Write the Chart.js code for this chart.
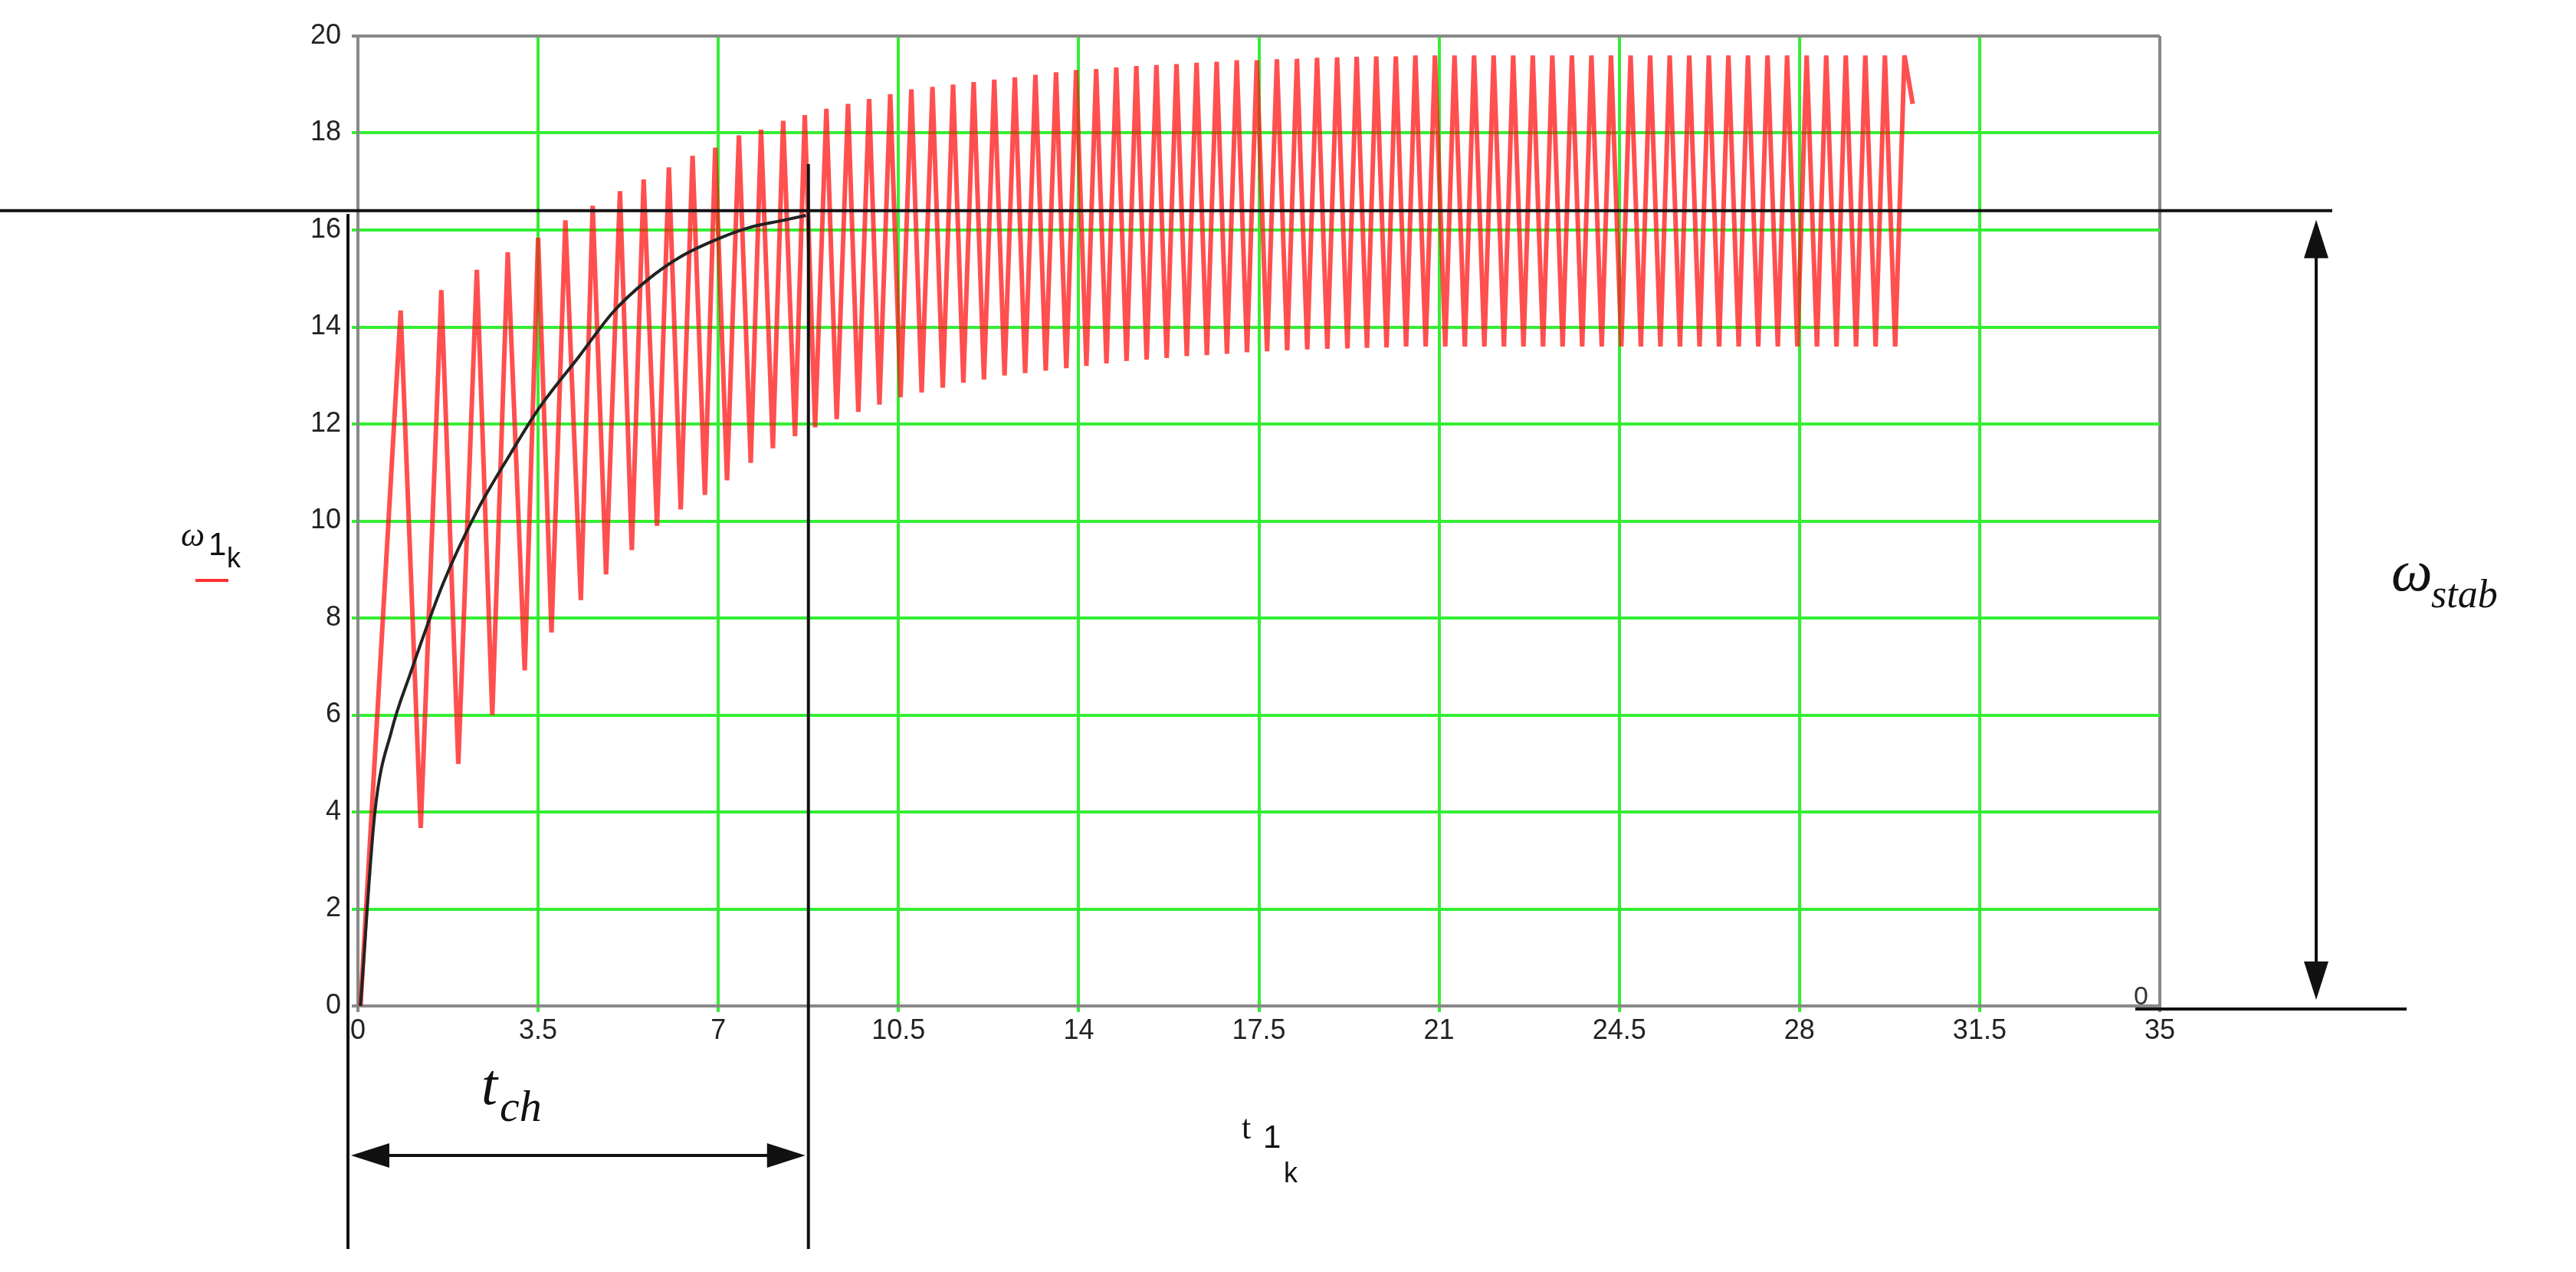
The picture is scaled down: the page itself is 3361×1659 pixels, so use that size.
<!DOCTYPE html>
<html>
<head>
<meta charset="utf-8">
<script src="https://cdn.jsdelivr.net/npm/chart.js@4.4.1/dist/chart.umd.min.js"></script>
<style>
  html, body { margin: 0; padding: 0; background: #fff; }
  #wrap { width: 3361px; height: 1659px; }
</style>
</head>
<body>
<div id="wrap"><canvas id="omegaChart"></canvas></div>
<script>
// tick labels
const xTicks = [0, 3.5, 7, 10.5, 14, 17.5, 21, 24.5, 28, 31.5, 35];
const yTicks = [0, 2, 4, 6, 8, 10, 12, 14, 16, 18, 20];

// oscillating speed omega_1k: peaks and troughs
const peakTimes = [0.83, 1.62, 2.31, 2.91, 3.5, 4.03, 4.56, 5.09, 5.55, 6.04, 6.5, 6.94, 7.4, 7.83, 8.26, 8.68,
  9.10, 9.52, 9.93, 10.34, 10.75, 11.16, 11.56, 11.96, 12.36, 12.76, 13.16, 13.56, 13.95, 14.34, 14.73, 15.12,
  15.51, 15.90, 16.29, 16.68, 17.07, 17.46, 17.85, 18.24, 18.63, 19.02, 19.40, 19.78, 20.16, 20.54, 20.92, 21.30,
  21.68, 22.06, 22.44, 22.82, 23.20, 23.58, 23.96, 24.34, 24.72, 25.10, 25.48, 25.86, 26.24, 26.62, 27.00, 27.38,
  27.76, 28.14, 28.52, 28.90, 29.28, 29.66, 30.04];
const peakValues = [14.34, 14.76, 15.18, 15.54, 15.84, 16.2, 16.5, 16.8, 17.04, 17.29, 17.53, 17.7, 17.95, 18.07, 18.25, 18.37,
  18.5, 18.6, 18.7, 18.8, 18.9, 18.95, 19.0, 19.05, 19.1, 19.15, 19.2, 19.25, 19.3, 19.32, 19.35, 19.38,
  19.4, 19.42, 19.45, 19.47, 19.5, 19.5, 19.52, 19.53, 19.55, 19.56, 19.57, 19.58, 19.58, 19.6, 19.6, 19.6,
  19.6, 19.6, 19.6, 19.6, 19.6, 19.6, 19.6, 19.6, 19.6, 19.6, 19.6, 19.6, 19.6, 19.6, 19.6, 19.6,
  19.6, 19.6, 19.6, 19.6, 19.6, 19.6, 19.6];
const troughTimes = [1.22, 1.95, 2.61, 3.24, 3.76, 4.33, 4.82, 5.32, 5.81, 6.27, 6.74, 7.17, 7.63, 8.06, 8.49, 8.88,
  9.30, 9.72, 10.13, 10.54, 10.95, 11.36, 11.76, 12.16, 12.56, 12.96, 13.36, 13.76, 14.15, 14.54, 14.93, 15.32,
  15.71, 16.10, 16.49, 16.88, 17.27, 17.66, 18.05, 18.44, 18.83, 19.22, 19.60, 19.98, 20.36, 20.74, 21.12, 21.50,
  21.88, 22.26, 22.64, 23.02, 23.40, 23.78, 24.16, 24.54, 24.92, 25.30, 25.68, 26.06, 26.44, 26.82, 27.20, 27.58,
  27.96, 28.34, 28.72, 29.10, 29.48, 29.86];
const troughValues = [3.67, 4.99, 6.0, 6.92, 7.7, 8.37, 8.9, 9.4, 9.9, 10.24, 10.54, 10.84, 11.2, 11.5, 11.75, 11.93,
  12.1, 12.25, 12.4, 12.55, 12.65, 12.75, 12.85, 12.92, 13.0, 13.05, 13.1, 13.15, 13.2, 13.25, 13.3, 13.33,
  13.36, 13.4, 13.42, 13.45, 13.48, 13.5, 13.52, 13.54, 13.55, 13.56, 13.57, 13.58, 13.6, 13.6, 13.6, 13.6,
  13.6, 13.6, 13.6, 13.6, 13.6, 13.6, 13.6, 13.6, 13.6, 13.6, 13.6, 13.6, 13.6, 13.6, 13.6, 13.6,
  13.6, 13.6, 13.6, 13.6, 13.6, 13.6];
const startPoint = [0.05, 0];
const endPoint = [30.2, 18.6];

// smooth mean curve (black)
const meanTimes = [0.05, 0.33, 0.66, 1.0, 1.65, 2.31, 2.97, 3.5, 4.3, 4.95, 5.6, 6.27, 7.0, 7.6, 8.26, 8.7];
const meanValues = [0, 4.0, 5.7, 6.8, 8.7, 10.2, 11.4, 12.3, 13.4, 14.3, 14.95, 15.45, 15.82, 16.05, 16.2, 16.3];

const omegaStab = 16.4;
const tCh = 8.75;

function buildOscillation() {
  const pts = [{ x: startPoint[0], y: startPoint[1] }];
  peakTimes.forEach((t, i) => pts.push({ x: t, y: peakValues[i] }));
  troughTimes.forEach((t, i) => pts.push({ x: t, y: troughValues[i] }));
  pts.push({ x: endPoint[0], y: endPoint[1] });
  return pts.sort((a, b) => a.x - b.x);
}

// annotation overlay: omega_stab line, t_ch markers, arrows, axis titles
const overlay = {
  id: 'overlay',
  afterDraw(chart) {
    const c = chart.ctx;
    const xs = chart.scales.x, ys = chart.scales.y;
    const yStab = ys.getPixelForValue(omegaStab);
    const y0 = ys.getPixelForValue(0);
    const xL = 454;
    const xCh = xs.getPixelForValue(tCh);
    c.save();
    c.strokeStyle = '#111';
    c.fillStyle = '#111';
    c.lineWidth = 4;

    c.beginPath();
    c.moveTo(0, yStab); c.lineTo(3043, yStab);
    c.moveTo(xL, 279); c.lineTo(xL, 1629);
    c.moveTo(xCh, 214); c.lineTo(xCh, 1629);
    c.moveTo(2786, y0 + 4); c.lineTo(3140, y0 + 4);
    c.stroke();

    function arrowHead(x, y, dx, dy) {
      const L = 50, W = 16;
      const px = -dy, py = dx;
      c.beginPath();
      c.moveTo(x, y);
      c.lineTo(x - dx * L + px * W, y - dy * L + py * W);
      c.lineTo(x - dx * L - px * W, y - dy * L - py * W);
      c.closePath();
      c.fill();
    }
    // t_ch arrow
    const ya = 1507;
    c.beginPath(); c.moveTo(xL + 20, ya); c.lineTo(xCh - 20, ya); c.stroke();
    arrowHead(xL + 4, ya, -1, 0);
    arrowHead(xCh - 4, ya, 1, 0);
    // omega_stab arrow
    const xa = 3022;
    c.beginPath(); c.moveTo(xa, yStab + 30); c.lineTo(xa, y0 - 30); c.stroke();
    arrowHead(xa, yStab + 12, 0, -1);
    arrowHead(xa, y0 - 8, 0, 1);

    c.textBaseline = 'alphabetic';
    c.font = 'italic 76px "Liberation Serif"';
    c.fillText('t', 628, 1440);
    c.font = 'italic 58px "Liberation Serif"';
    c.fillText('ch', 652, 1462);
    c.font = 'italic 76px "Liberation Serif"';
    c.fillText('ω', 3120, 770);
    c.font = 'italic 52px "Liberation Serif"';
    c.fillText('stab', 3172, 792);

    // axis titles
    c.font = 'italic 44px "Liberation Serif"';
    c.fillText('ω', 236, 712);
    c.font = '44px "Liberation Serif"';
    c.fillText('t', 1620, 1485);
    c.font = '42px "Liberation Sans"';
    c.fillText('1', 272, 724);
    c.fillText('1', 1648, 1497);
    c.font = '36px "Liberation Sans"';
    c.fillText('k', 296, 740);
    c.fillText('k', 1675, 1542);
    c.strokeStyle = '#ff3030';
    c.lineWidth = 4;
    c.beginPath(); c.moveTo(255, 757); c.lineTo(298, 757); c.stroke();

    // right-side zero label
    c.font = '34px "Liberation Sans"';
    c.fillStyle = '#333';
    c.fillText('0', 2784, y0 - 2);
    c.restore();
  }
};

window.addEventListener('DOMContentLoaded', () => {
  const ctx = document.getElementById('omegaChart').getContext('2d');
  new Chart(ctx, {
    type: 'line',
    data: {
      datasets: [{
        label: 'omega mean',
        data: meanTimes.map((t, i) => ({ x: t, y: meanValues[i] })),
        borderColor: '#222',
        borderWidth: 4,
        pointRadius: 0,
        tension: 0.4,
        cubicInterpolationMode: 'monotone'
      }, {
        label: 'omega 1k',
        data: buildOscillation(),
        borderColor: 'rgba(255, 20, 20, 0.75)',
        borderWidth: 6,
        pointRadius: 0,
        tension: 0
      }]
    },
    plugins: [overlay],
    options: {
      responsive: true,
      maintainAspectRatio: false,
      animation: false,
      layout: { padding: { left: 377, right: 543, top: 47, bottom: 287 } },
      plugins: { legend: { display: false }, tooltip: { enabled: false } },
      scales: {
        x: {
          type: 'linear', min: 0, max: 35,
          afterFit: s => { s.height = 60; },
          afterBuildTicks: s => { s.ticks = xTicks.map(v => ({ value: v })); },
          ticks: { color: '#222', font: { family: 'Liberation Sans', size: 36 }, maxRotation: 0 },
          grid: {
            color: c => (c.tick.value === 0 || c.tick.value === 35) ? '#888' : '#33ee33',
            lineWidth: 4, drawTicks: true, tickLength: 8
          },
          border: { color: '#888', width: 4 }
        },
        y: {
          min: 0, max: 20,
          afterFit: s => { s.width = 90; },
          afterBuildTicks: s => { s.ticks = yTicks.map(v => ({ value: v })); },
          ticks: { color: '#222', font: { family: 'Liberation Sans', size: 36 }, padding: 14 },
          grid: {
            color: c => (c.tick.value === 0 || c.tick.value === 20) ? '#888' : '#33ee33',
            lineWidth: 4, tickLength: 8
          },
          border: { color: '#888', width: 4 }
        }
      }
    }
  });
});
</script>
</body>
</html>
